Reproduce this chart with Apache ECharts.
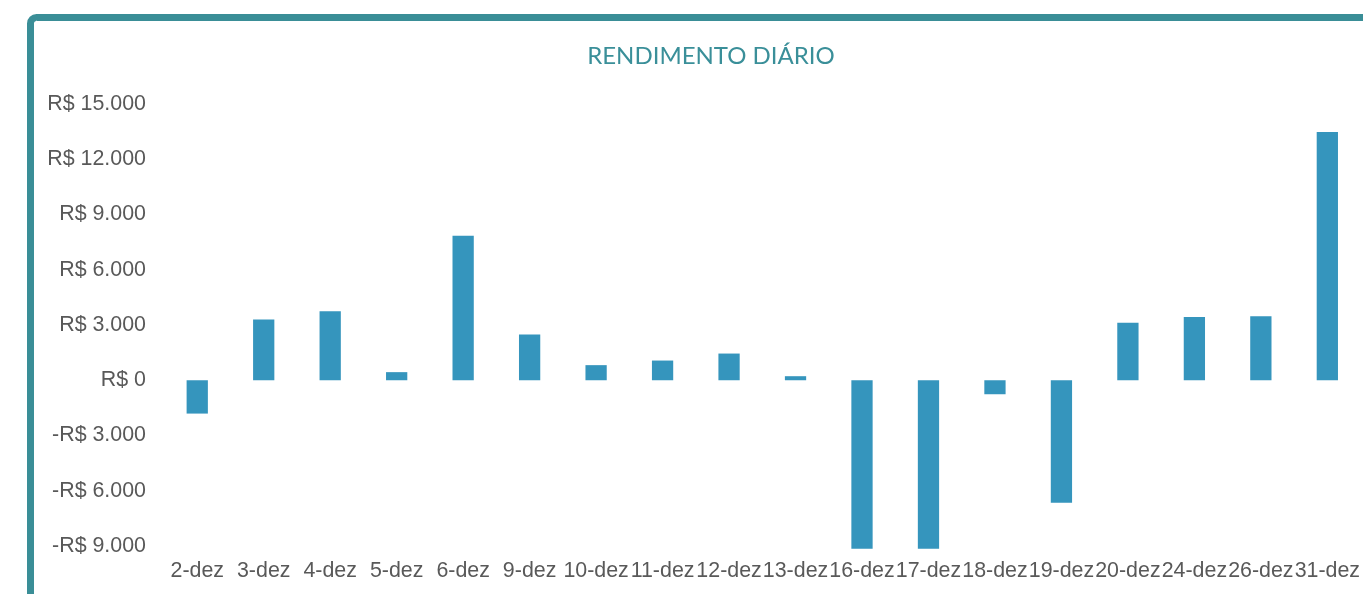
<!DOCTYPE html>
<html>
<head>
<meta charset="utf-8">
<title>Rendimento Diário</title>
<script src="https://cdn.jsdelivr.net/npm/echarts@6/dist/echarts.min.js"></script>
<style>
  html, body { margin: 0; padding: 0; background: #ffffff; overflow: hidden; }
  #chart { width: 1363px; height: 594px; }
</style>
</head>
<body>
<div id="chart"></div>
<script>
// Daily return per trading day of December (R$)
const dias = ['2-dez', '3-dez', '4-dez', '5-dez', '6-dez', '9-dez', '10-dez', '11-dez', '12-dez',
  '13-dez', '16-dez', '17-dez', '18-dez', '19-dez', '20-dez', '24-dez', '26-dez', '31-dez'];
const rendimento = [-1810, 3300, 3740, 440, 7840, 2490, 820, 1070, 1450,
  220, -9150, -9150, -760, -6650, 3120, 3430, 3480, 13480];

// Value axis ticks
const yMin = -9000;
const yMax = 15000;
const yStep = 3000;
const yTickLabels = ['-R$ 9.000', '-R$ 6.000', '-R$ 3.000', 'R$ 0', 'R$ 3.000', 'R$ 6.000', 'R$ 9.000', 'R$ 12.000', 'R$ 15.000'];

const chart = echarts.init(document.getElementById('chart'), null, { renderer: 'canvas' });

chart.setOption({
  animation: false,
  backgroundColor: '#ffffff',
  title: {
    text: 'RENDIMENTO DIÁRIO',
    left: 706,
    top: 39,
    textAlign: 'center',
    textStyle: {
      color: '#3a8f99',
      fontFamily: 'Lato, "Open Sans", sans-serif',
      fontWeight: 'normal',
      fontSize: 24
    }
  },
  graphic: [{
    type: 'rect',
    silent: true,
    z: 100,
    shape: { x: 30.5, y: 17.5, width: 1500, height: 800, r: 6 },
    style: { fill: 'none', stroke: '#3a8e97', lineWidth: 7 }
  }],
  grid: { left: 164, right: 1, top: 104, bottom: 48, containLabel: false },
  xAxis: {
    type: 'category',
    data: dias,
    axisLine: { show: false },
    axisTick: { show: false },
    axisLabel: {
      interval: 0,
      margin: 15,
      color: '#595959',
      fontFamily: '"Liberation Sans", Arial, sans-serif',
      fontSize: 21.4
    },
    position: 'bottom',
    splitLine: { show: false }
  },
  yAxis: {
    type: 'value',
    min: yMin,
    max: yMax,
    interval: yStep,
    axisLine: { show: false },
    axisTick: { show: false },
    splitLine: { show: false },
    axisLabel: {
      margin: 18,
      color: '#595959',
      fontFamily: '"Liberation Sans", Arial, sans-serif',
      fontSize: 21.4,
      formatter: function (v) {
        return yTickLabels[Math.round((v - yMin) / yStep)];
      }
    }
  },
  series: [{
    type: 'bar',
    data: rendimento,
    barWidth: '32%',
    clip: false,
    itemStyle: { color: '#3595bd' }
  }]
});
</script>
</body>
</html>
